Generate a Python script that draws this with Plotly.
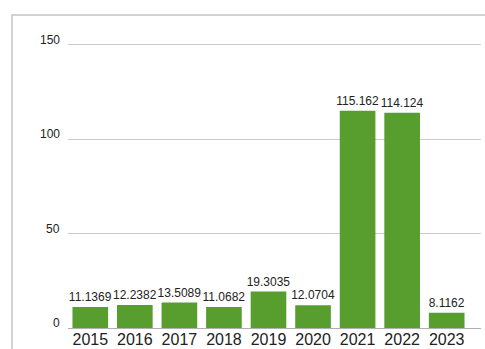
import plotly.graph_objects as go

years = ["2015", "2016", "2017", "2018", "2019", "2020", "2021", "2022", "2023"]
values = [11.1369, 12.2382, 13.5089, 11.0682, 19.3035, 12.0704, 115.162, 114.124, 8.1162]
labels = ["11.1369", "12.2382", "13.5089", "11.0682", "19.3035", "12.0704", "115.162", "114.124", "8.1162"]
y_ticks = [0, 50, 100, 150]

W, H = 485, 349
L, R, T, B = 68, 4, 41, 21
FONT = "Liberation Sans, Arial, sans-serif"

fig = go.Figure(go.Bar(
    x=list(range(len(years))),
    y=values,
    text=labels,
    textposition="outside",
    constraintext="none",
    cliponaxis=False,
    textfont=dict(family=FONT, size=12, color="#222222"),
    marker=dict(color="#579e2f", line=dict(width=0)),
    width=0.8,
    hoverinfo="skip",
))

pw, ph = W - L - R, H - T - B
fig.add_shape(type="rect", xref="paper", yref="paper",
              x0=(12 - L) / pw, x1=1.2, y0=-0.3, y1=(H - B - 15) / ph,
              line=dict(color="#c4c4c4", width=1.5), fillcolor="rgba(0,0,0,0)", layer="below")

# y tick labels sit slightly above their gridlines
for v in y_ticks:
    fig.add_annotation(x=0, xref="paper", y=v, yref="y", text=str(v),
                       showarrow=False, xanchor="right", yanchor="middle",
                       xshift=-6, yshift=5,
                       font=dict(family=FONT, size=12, color="#222222"))

fig.update_layout(
    width=W, height=H,
    margin=dict(l=L, r=R, t=T, b=B, autoexpand=False),
    paper_bgcolor="white", plot_bgcolor="white",
    showlegend=False,
    font=dict(family=FONT, color="#222222"),
    xaxis=dict(
        range=[-0.5, 8.77],
        tickmode="array", tickvals=list(range(len(years))), ticktext=years,
        tickfont=dict(size=16, color="#222222"),
        showgrid=False, zeroline=False, showline=False, ticks="",
        automargin=False, fixedrange=True,
    ),
    yaxis=dict(
        range=[0, 152.1],
        tickmode="array", tickvals=y_ticks, showticklabels=False,
        showgrid=True, gridcolor="#cccccc", gridwidth=1,
        zeroline=True, zerolinecolor="#b0b0b0", zerolinewidth=1,
        showline=False, ticks="",
        automargin=False, fixedrange=True,
    ),
)

fig.write_html("out.html", config={"displayModeBar": False})
